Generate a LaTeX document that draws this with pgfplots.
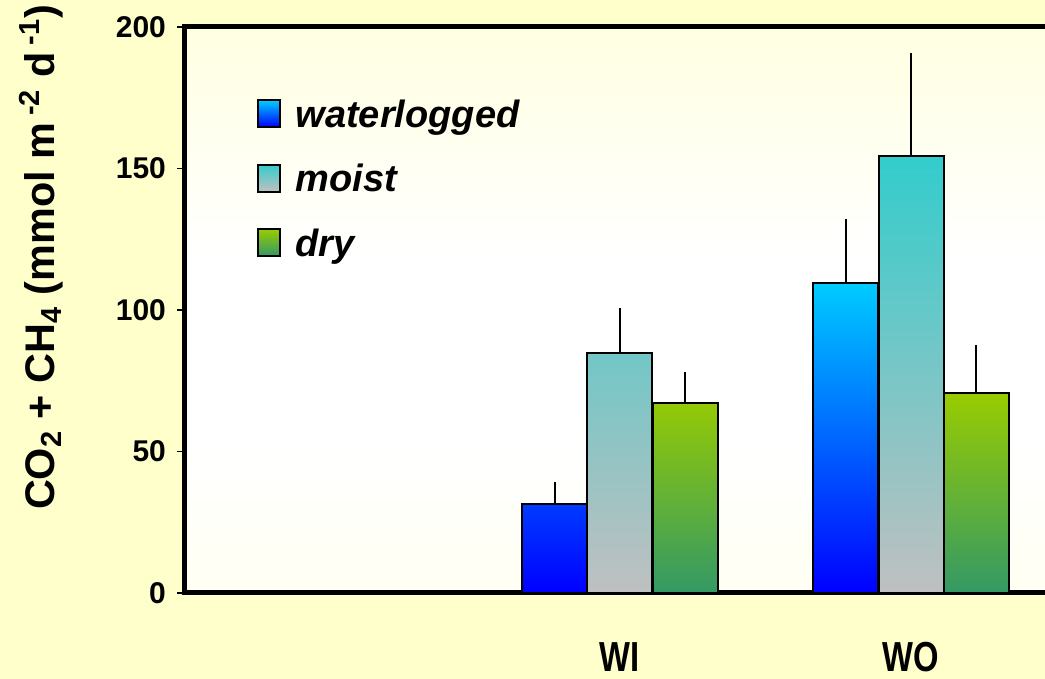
\documentclass[border=0pt]{standalone}
\usepackage{pgfplots}
\pgfplotsset{compat=1.18}
\usepackage{fontspec}
\setmainfont{Liberation Sans}
\definecolor{bgyellow}{RGB}{255,255,204}
\definecolor{wlTop}{RGB}{0,204,255}
\definecolor{wlBot}{RGB}{0,0,255}
\definecolor{moTop}{RGB}{51,204,204}
\definecolor{moBot}{RGB}{192,192,192}
\definecolor{drTop}{RGB}{153,204,0}
\definecolor{drBot}{RGB}{51,153,102}
\colorlet{bgA}{bgyellow!70!white}
\colorlet{bgB}{bgyellow!20!white}
\colorlet{bgC}{bgyellow!45!white}
\colorlet{bgD}{bgyellow!88!white}
\pgfdeclareverticalshading{plotbg}{100bp}{color(0bp)=(bgyellow); color(10bp)=(bgA); color(27bp)=(bgB); color(38bp)=(white); color(55bp)=(white); color(70bp)=(bgC); color(88bp)=(bgD); color(100bp)=(bgyellow)}
\begin{document}
\begin{tikzpicture}
\path[use as bounding box] (-92.5pt,-43pt) rectangle (430pt,296.5pt);
\clip (-92.5pt,-43pt) rectangle (430pt,296.5pt);
\fill[bgyellow] (-92.5pt,-43pt) rectangle (430pt,296.5pt);
\begin{axis}[
  at={(0pt,0pt)}, anchor=south west,
  scale only axis, width=437.5pt, height=283pt,
  xmin=-0.4948, xmax=2.512, ymin=0, ymax=200,
  axis background/.style={shade, shading=plotbg},
  axis line style={-, line width=2.5pt, black},
  xtick={1,2}, xticklabels={WI,WO},
  xtick style={draw=none},
  ytick={0,50,100,150,200}, ytick pos=left,
  ytick style={line width=0.6pt, black},
  tick align=outside, major tick length=4pt,
  /pgf/number format/assume math mode=true,
  yticklabel style={font=\fontsize{15}{15}\selectfont\bfseries, xshift=-2pt},
  xticklabel style={font=\fontsize{21}{21}\selectfont\bfseries, xscale=0.78, anchor=base, yshift=-35.5pt},
  ylabel={CO\textsubscript{2} + CH\textsubscript{4} (mmol m\,\textsuperscript{-2} d\,\textsuperscript{-1})},
  ylabel style={at={(axis description cs:-0.164,0.593)}, anchor=center, font=\fontsize{20.7}{20.7}\selectfont\bfseries},
  legend style={draw=none, fill=none, at={(0.0814,0.873)}, anchor=north west, inner sep=0pt,
    font=\fontsize{19}{19}\selectfont\bfseries\itshape, row sep=16.5pt,
    nodes={inner sep=0pt}, /tikz/every odd column/.append style={column sep=7.5pt}},
  legend cell align=left,
  clip=false,
]
\addplot[ybar, bar width=32.5pt, bar shift=0pt, draw=black, line width=1pt,
  top color=wlTop, bottom color=wlBot,
  legend image code/.code={\draw[line width=1pt, draw=black, top color=wlTop, bottom color=wlBot] (0pt,-6pt) rectangle (11pt,7.5pt);},
  error bars/.cd, y dir=plus, y explicit, error mark=none, error bar style={line width=1pt, black}]
  coordinates {(0.7766,31.3) +- (0,7.9) (1.7766,109.7) +- (0,22.6)};
\addlegendentry{waterlogged}
\addplot[ybar, bar width=32.5pt, bar shift=0pt, draw=black, line width=1pt,
  top color=moTop, bottom color=moBot,
  legend image code/.code={\draw[line width=1pt, draw=black, top color=moTop, bottom color=moBot] (0pt,-6pt) rectangle (11pt,7.5pt);},
  error bars/.cd, y dir=plus, y explicit, error mark=none, error bar style={line width=1pt, black}]
  coordinates {(1,84.8) +- (0,15.8) (2,154.5) +- (0,36.2)};
\addlegendentry{moist}
\addplot[ybar, bar width=32.5pt, bar shift=0pt, draw=black, line width=1pt,
  top color=drTop, bottom color=drBot,
  legend image code/.code={\draw[line width=1pt, draw=black, top color=drTop, bottom color=drBot] (0pt,-6pt) rectangle (11pt,7.5pt);},
  error bars/.cd, y dir=plus, y explicit, error mark=none, error bar style={line width=1pt, black}]
  coordinates {(1.2234,67.1) +- (0,11.0) (2.2234,70.8) +- (0,16.8)};
\addlegendentry{dry}
\end{axis}
\end{tikzpicture}
\end{document}
